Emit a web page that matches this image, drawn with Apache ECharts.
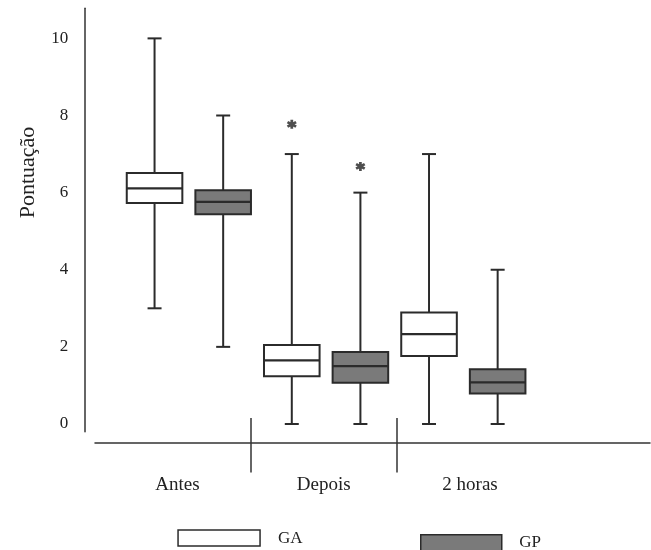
<!DOCTYPE html>
<html>
<head>
<meta charset="utf-8">
<script src="https://cdn.jsdelivr.net/npm/echarts@6/dist/echarts.min.js"></script>
<style>html,body{margin:0;padding:0;background:#fff;}#c{width:651px;height:550px;}</style>
</head>
<body>
<div id="c"></div>
<script>
// ---- data ----
var categories = ['Antes', 'Depois', '2 horas'];
var groups = ['GA', 'GP'];
var yTicks = [0, 2, 4, 6, 8, 10];
var yName = 'Pontuação';

var gaMin = [3, 0, 0];
var gaQ1  = [5.73, 1.24, 1.76];
var gaMed = [6.11, 1.65, 2.33];
var gaQ3  = [6.51, 2.05, 2.89];
var gaMax = [10, 7, 7];

var gpMin = [2, 0, 0];
var gpQ1  = [5.44, 1.07, 0.79];
var gpMed = [5.76, 1.50, 1.08];
var gpQ3  = [6.06, 1.87, 1.42];
var gpMax = [8, 6, 4];

var outlierGroup    = ['GA', 'GP'];
var outlierCategory = ['Depois', 'Depois'];
var outlierValue    = [7.77, 6.68];

// ---- build ----
var FONT = 'Liberation Serif';
var INK = '#2b2b2b';
var slots = [];
categories.forEach(function (c) { groups.forEach(function (g) { slots.push(c + '-' + g); }); });
function slotIndex(cat, grp) { return categories.indexOf(cat) * groups.length + groups.indexOf(grp); }

function boxData(grp, mn, q1, md, q3, mx) {
  return categories.map(function (c, i) { return [slotIndex(c, grp), mn[i], q1[i], md[i], q3[i], mx[i]]; });
}
var gaData = boxData('GA', gaMin, gaQ1, gaMed, gaQ3, gaMax);
var gpData = boxData('GP', gpMin, gpQ1, gpMed, gpQ3, gpMax);
var outData = outlierValue.map(function (v, i) { return [slotIndex(outlierCategory[i], outlierGroup[i]), v]; });

// label axis: labels interleaved with separator positions
var labelSlots = [''];
categories.forEach(function (c, i) { labelSlots.push(c); labelSlots.push(i < categories.length - 1 ? ' '.repeat(i + 1) : ''); });

function makeRender(fill) {
  return function (params, api) {
    var x = api.value(0);
    var c = function (v) { return api.coord([x, v]); };
    var pMin = c(api.value(1)), pQ1 = c(api.value(2)), pMed = c(api.value(3)), pQ3 = c(api.value(4)), pMax = c(api.value(5));
    var band = api.size([1, 0])[0];
    var bw = band * 0.81, cw = band * 0.204;
    var cx = pMin[0];
    var st = { stroke: INK, lineWidth: 2 };
    return {
      type: 'group',
      children: [
        { type: 'line', shape: { x1: cx, y1: pMax[1], x2: cx, y2: pQ3[1] }, style: st },
        { type: 'line', shape: { x1: cx, y1: pQ1[1], x2: cx, y2: pMin[1] }, style: st },
        { type: 'line', shape: { x1: cx - cw / 2, y1: pMax[1], x2: cx + cw / 2, y2: pMax[1] }, style: st },
        { type: 'line', shape: { x1: cx - cw / 2, y1: pMin[1], x2: cx + cw / 2, y2: pMin[1] }, style: st },
        { type: 'rect', shape: { x: cx - bw / 2, y: pQ3[1], width: bw, height: pQ1[1] - pQ3[1] }, style: { fill: fill, stroke: INK, lineWidth: 2 } },
        { type: 'line', shape: { x1: cx - bw / 2, y1: pMed[1], x2: cx + bw / 2, y2: pMed[1] }, style: { stroke: INK, lineWidth: 2.2 } }
      ]
    };
  };
}

var asterisk = 'path://M1.275 0 L0.725 0 L0.725 2 L1.275 2 Z M1.7285 1.738 L2.0035 1.262 L0.2715 0.262 L-0.0035 0.738 Z M-0.0035 1.262 L0.2715 1.738 L2.0035 0.738 L1.7285 0.262 Z';

var chart = echarts.init(document.getElementById('c'), null, { renderer: 'canvas' });
chart.setOption({
  animation: false,
  backgroundColor: '#ffffff',
  textStyle: { fontFamily: FONT },
  grid: [
    { left: 120.24, right: 119.04, top: 8.3, bottom: 118.3 },
    { left: 104.2, right: 107.8, top: 418, height: 54.5 },
    { left: 95, right: 1, top: 442.7, height: 10 }
  ],
  xAxis: [
    { gridIndex: 0, type: 'category', data: slots, show: false },
    {
      gridIndex: 1, type: 'category', data: labelSlots, boundaryGap: false,
      axisLine: { show: false, onZero: true },
      axisTick: { show: false },
      axisLabel: { interval: 0, margin: 3.5, fontSize: 19, color: '#222', fontFamily: FONT },
      splitLine: { show: true, interval: function (i) { return i === 2 || i === 4; }, lineStyle: { color: '#333', width: 1.5 } }
    },
    {
      gridIndex: 2, type: 'value', min: 0, max: 1, position: 'top',
      axisLine: { show: true, onZero: false, lineStyle: { color: '#333', width: 1.5 } },
      axisTick: { show: false }, axisLabel: { show: false }, splitLine: { show: false }
    }
  ],
  yAxis: [
    {
      gridIndex: 0, type: 'value', min: -0.2, max: 10.78, offset: 35.24,
      axisLine: { show: true, lineStyle: { color: '#333', width: 1.5 } },
      axisTick: { show: false }, splitLine: { show: false },
      axisLabel: { customValues: yTicks, margin: 16.7, fontSize: 17, color: '#222', fontFamily: FONT },
      name: yName, nameLocation: 'middle', nameGap: 46, nameRotate: 90,
      nameTextStyle: { fontSize: 22, color: '#222', fontFamily: FONT, padding: [0, 0, 0, 95] }
    },
    { gridIndex: 1, type: 'value', min: -29.8, max: 24.7, show: false },
    { gridIndex: 2, type: 'value', min: 0, max: 1, show: false }
  ],
  legend: [
    {
      data: [{ name: groups[0], icon: 'rect', itemStyle: { color: '#ffffff', borderColor: INK, borderWidth: 1.5 } }],
      left: 177.3, top: 529.3, itemWidth: 82, itemHeight: 16, padding: 0, selectedMode: false,
      textStyle: { fontSize: 17, color: '#222', fontFamily: FONT, padding: [0, 0, 0, 13] }
    },
    {
      data: [{ name: groups[1], icon: 'rect', itemStyle: { color: '#7a7a7a', borderColor: INK, borderWidth: 1.5 } }],
      left: 420, top: 534, itemWidth: 81, itemHeight: 16, padding: 0, selectedMode: false,
      textStyle: { fontSize: 17, color: '#222', fontFamily: FONT, padding: [0, 0, 0, 12.5] }
    }
  ],
  series: [
    { type: 'custom', name: groups[0], xAxisIndex: 0, yAxisIndex: 0, data: gaData, encode: { x: 0, y: [1, 2, 3, 4, 5] }, itemStyle: { color: '#ffffff' }, renderItem: makeRender('#ffffff') },
    { type: 'custom', name: groups[1], xAxisIndex: 0, yAxisIndex: 0, data: gpData, encode: { x: 0, y: [1, 2, 3, 4, 5] }, itemStyle: { color: '#7a7a7a' }, renderItem: makeRender('#7a7a7a') },
    { type: 'scatter', name: 'outliers', xAxisIndex: 0, yAxisIndex: 0, data: outData, symbol: asterisk, symbolSize: [10, 9], itemStyle: { color: '#222' } }
  ]
});
</script>
</body>
</html>
